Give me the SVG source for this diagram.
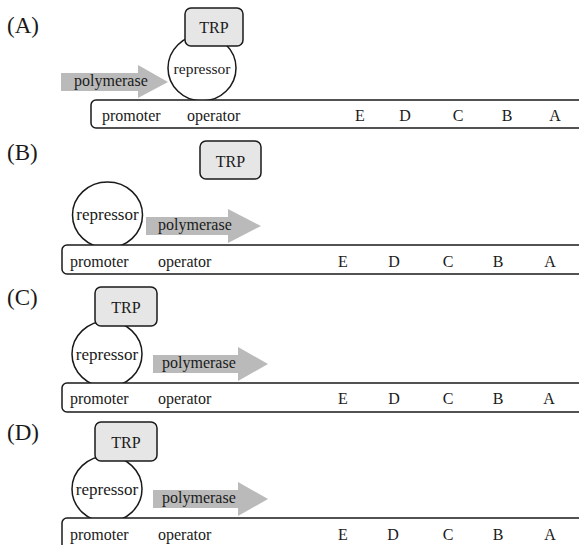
<svg xmlns="http://www.w3.org/2000/svg" width="579" height="545" viewBox="0 0 579 545" font-family="'Liberation Serif', 'Times New Roman', serif">
<defs>
<style>
text{font-family:"Liberation Serif","Times New Roman",serif;fill:#1a1a1a}
.lab{font-size:23px}
.t{font-size:16px}
.rep{font-size:17px;text-anchor:middle}
.mid{text-anchor:middle}
.trp{fill:#e6e6e6;stroke:#1a1a1a;stroke-width:1.5}
.circ{fill:#fff;stroke:#1a1a1a;stroke-width:1.5}
.bar{fill:#fff;stroke:#1a1a1a;stroke-width:1.5}
.arr{fill:#bababa;stroke:none}
</style>
</defs>
<rect width="579" height="545" fill="#fff"/>

<!-- Panel A -->
<g id="panelA">
<text class="lab" x="7" y="33">(A)</text>
<g id="A-polymerase"><path class="arr" d="M61,73 H138 V65 L168,82 L138,98 V91 H61 Z"/><text class="t" x="74" y="86">polymerase</text></g>
<g id="A-repressor"><ellipse class="circ" cx="202" cy="68" rx="34" ry="33"/><text class="rep" x="202" y="74" style="font-size:15.5px">repressor</text></g>
<g id="A-trp"><rect class="trp" x="185" y="8" width="58" height="38" rx="6"/><text class="t mid" x="214" y="33">TRP</text></g>
<g id="A-gene"><rect class="bar" x="91" y="100" width="500" height="28" rx="5"/>
<text class="t" x="102" y="121">promoter</text><text class="t" x="187" y="121">operator</text>
<text class="t mid" x="360" y="121">E</text><text class="t mid" x="405" y="121">D</text><text class="t mid" x="458" y="121">C</text><text class="t mid" x="507" y="121">B</text><text class="t mid" x="555" y="121">A</text></g>
</g>

<!-- Panel B -->
<g id="panelB">
<text class="lab" x="7" y="160">(B)</text>
<g id="B-trp"><rect class="trp" x="200" y="141" width="61" height="38" rx="6"/><text class="t mid" x="230.5" y="167">TRP</text></g>
<g id="B-polymerase"><path class="arr" d="M146,217 H228 V209 L261,226 L228,243 V235 H146 Z"/><text class="t" x="158" y="230">polymerase</text></g>
<g id="B-repressor"><ellipse class="circ" cx="107.5" cy="215" rx="35" ry="33"/><text class="rep" x="107.5" y="220">repressor</text></g>
<g id="B-gene"><rect class="bar" x="62" y="245" width="530" height="29" rx="5"/>
<text class="t" x="70" y="267">promoter</text><text class="t" x="158" y="267">operator</text>
<text class="t mid" x="343" y="267">E</text><text class="t mid" x="394" y="267">D</text><text class="t mid" x="448" y="267">C</text><text class="t mid" x="498" y="267">B</text><text class="t mid" x="550" y="267">A</text></g>
</g>

<!-- Panel C -->
<g id="panelC">
<text class="lab" x="7" y="305">(C)</text>
<g id="C-polymerase"><path class="arr" d="M153,355 H238 V347 L268,364 L238,381 V373 H153 Z"/><text class="t" x="162" y="368">polymerase</text></g>
<g id="C-repressor"><ellipse class="circ" cx="107" cy="354" rx="35" ry="33"/><text class="rep" x="107" y="360">repressor</text></g>
<g id="C-trp"><rect class="trp" x="95" y="287" width="62" height="39" rx="6"/><text class="t mid" x="126" y="313">TRP</text></g>
<g id="C-gene"><rect class="bar" x="62" y="383" width="530" height="29" rx="5"/>
<text class="t" x="70" y="404">promoter</text><text class="t" x="158" y="404">operator</text>
<text class="t mid" x="343" y="404">E</text><text class="t mid" x="394" y="404">D</text><text class="t mid" x="448" y="404">C</text><text class="t mid" x="498" y="404">B</text><text class="t mid" x="549" y="404">A</text></g>
</g>

<!-- Panel D -->
<g id="panelD">
<text class="lab" x="7" y="440">(D)</text>
<g id="D-polymerase"><path class="arr" d="M153,490 H238 V482 L268,499 L238,516 V508 H153 Z"/><text class="t" x="162" y="503">polymerase</text></g>
<g id="D-repressor"><ellipse class="circ" cx="107" cy="489" rx="35" ry="33"/><text class="rep" x="107" y="495">repressor</text></g>
<g id="D-trp"><rect class="trp" x="95" y="422" width="62" height="39" rx="6"/><text class="t mid" x="126" y="448">TRP</text></g>
<g id="D-gene"><rect class="bar" x="62" y="518" width="530" height="40" rx="5"/>
<text class="t" x="70" y="540">promoter</text><text class="t" x="158" y="540">operator</text>
<text class="t mid" x="343" y="540">E</text><text class="t mid" x="393" y="540">D</text><text class="t mid" x="448" y="540">C</text><text class="t mid" x="498" y="540">B</text><text class="t mid" x="550" y="540">A</text></g>
</g>
</svg>
